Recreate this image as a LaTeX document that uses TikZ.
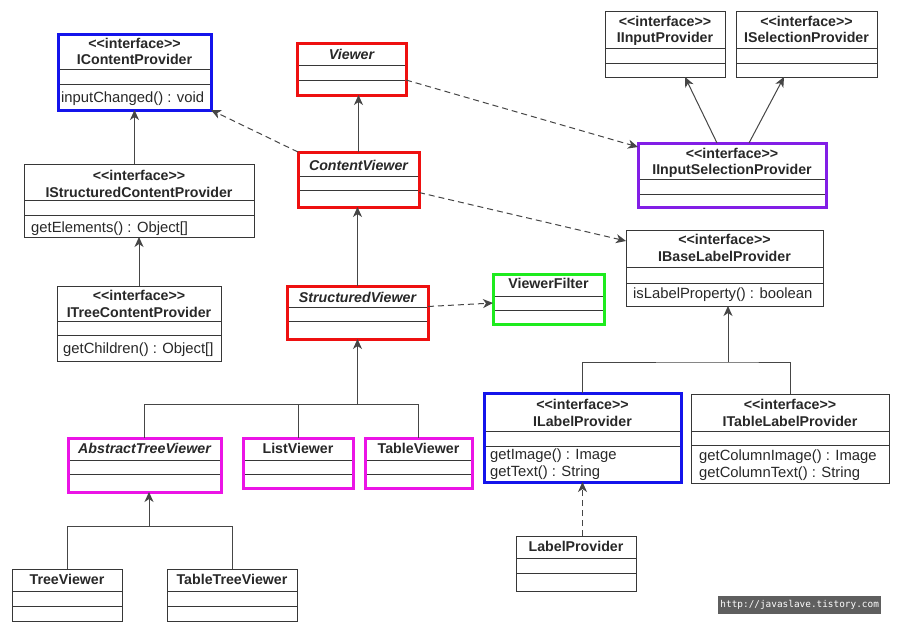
\documentclass[tikz,border=0pt]{standalone}
\usepackage{fontspec}
\setmainfont{Liberation Sans}[Ligatures=TeXOff]
\newfontfamily\wmfont{DejaVu Sans Mono}
\usetikzlibrary{arrows.meta,calc}
\definecolor{redc}{RGB}{238,16,16}
\definecolor{bluec}{RGB}{20,20,235}
\definecolor{purplec}{RGB}{130,30,230}
\definecolor{greenc}{RGB}{30,235,30}
\definecolor{magc}{RGB}{235,20,230}
\definecolor{boxc}{RGB}{55,55,55}
\definecolor{txtc}{RGB}{40,40,40}
\definecolor{linec}{RGB}{70,70,70}
\definecolor{wmc}{RGB}{95,95,95}
\tikzset{
  plainbox/.style={draw=boxc, line width=1pt, inner sep=0pt, outer sep=0pt},
  redbox/.style={plainbox, draw=redc, line width=3pt},
  bluebox/.style={plainbox, draw=bluec, line width=3pt},
  purplebox/.style={plainbox, draw=purplec, line width=3pt},
  greenbox/.style={plainbox, draw=greenc, line width=3pt},
  magbox/.style={plainbox, draw=magc, line width=3pt},
  divider/.style={draw=boxc, line width=0.9pt},
  hdr/.style={font=\fontsize{14.2}{16}\selectfont\bfseries, text=txtc, anchor=base, inner sep=0pt},
  ihdr/.style={hdr, font=\fontsize{14.2}{16}\selectfont\bfseries\itshape},
  meth/.style={font=\fontsize{14.8}{17}\selectfont, text=txtc, anchor=base west, inner sep=0pt},
  inh/.style={draw=linec, line width=1pt, -{Stealth[length=10pt,width=9pt,inset=3pt]}},
  conn/.style={draw=linec, line width=1pt},
  dep/.style={inh, dash pattern=on 6pt off 4pt},
}
\newcommand\umlcls[8]{%
  \draw[divider] (#3,#7) -- (#5,#7) (#3,#8) -- (#5,#8);
  \pgfmathsetlengthmacro\umlw{#5-#3}%
  \pgfmathsetlengthmacro\umlh{#6-#4}%
  \node[#2, minimum width=\umlw, minimum height=\umlh, anchor=north west] (#1) at (#3,#4) {};
}
\begin{document}
\begin{tikzpicture}[x=1pt,y=-1pt]
\path[use as bounding box, fill=white] (0,0) rectangle (900,629);

% classes
\umlcls{cp}{bluebox}{58}{34}{211}{110}{69}{84}
\umlcls{scp}{plainbox}{24}{164}{254}{237}{200}{215}
\umlcls{tcp}{plainbox}{57}{286}{221}{361}{321}{335}
\umlcls{vw}{redbox}{297}{43}{406}{95}{65}{80}
\umlcls{cv}{redbox}{298}{152}{419}{207}{176}{190}
\umlcls{sv}{redbox}{287}{286}{428}{339}{307}{321}
\umlcls{vf}{greenbox}{493}{274}{604}{324}{296}{310}
\umlcls{ip}{plainbox}{605}{11}{725}{77}{48}{63}
\umlcls{sp}{plainbox}{736}{11}{877}{77}{48}{63}
\umlcls{isel}{purplebox}{638}{143}{826}{207}{179}{194}
\umlcls{ibl}{plainbox}{626}{230}{823}{306}{267}{283}
\umlcls{ilp}{bluebox}{484}{393}{681}{482}{431}{446}
\umlcls{itlp}{plainbox}{691}{394}{889}{483}{431}{445}
\umlcls{lp}{plainbox}{516}{536}{636}{591}{558}{573}
\umlcls{atv}{magbox}{68}{438}{221}{492}{460}{474}
\umlcls{lv}{magbox}{243}{438}{353}{488}{460}{474}
\umlcls{tv}{magbox}{365}{438}{472}{488}{460}{474}
\umlcls{trv}{plainbox}{12}{569}{122}{621}{591}{606}
\umlcls{ttv}{plainbox}{167}{569}{297}{621}{591}{606}

% texts
\node[hdr] (cp-s) at (134.5,48) {<<interface>>};
\node[hdr] (cp-n) at (134.5,64) {IContentProvider};
\node[meth] (cp-m) at (61,102) {inputChanged() : void};

\node[hdr] (scp-s) at (139,180) {<<interface>>};
\node[hdr] (scp-n) at (139,197) {IStructuredContentProvider};
\node[meth] (scp-m) at (31,232) {getElements() : Object[]};

\node[hdr] (tcp-s) at (139,300) {<<interface>>};
\node[hdr] (tcp-n) at (139,317) {ITreeContentProvider};
\node[meth] (tcp-m) at (63,353) {getChildren() : Object[]};

\node[ihdr] (vw-n) at (351.5,59) {Viewer};
\node[ihdr] (cv-n) at (358.5,170) {ContentViewer};
\node[ihdr] (sv-n) at (357.5,302) {StructuredViewer};
\node[hdr] (vf-n) at (548.5,288) {ViewerFilter};

\node[hdr] (ip-s) at (665,27) {<<interface>>};
\node[hdr] (ip-n) at (665,42) {IInputProvider};
\node[hdr] (sp-s) at (806.5,27) {<<interface>>};
\node[hdr] (sp-n) at (806.5,42) {ISelectionProvider};

\node[hdr] (isel-s) at (732,158) {<<interface>>};
\node[hdr] (isel-n) at (732,174) {IInputSelectionProvider};

\node[hdr] (ibl-s) at (724.5,244) {<<interface>>};
\node[hdr] (ibl-n) at (724.5,261) {IBaseLabelProvider};
\node[meth] (ibl-m) at (633,298) {isLabelProperty() : boolean};

\node[hdr] (ilp-s) at (582.5,409) {<<interface>>};
\node[hdr] (ilp-n) at (582.5,426) {ILabelProvider};
\node[meth] (ilp-m1) at (490,459) {getImage() : Image};
\node[meth] (ilp-m2) at (490,476) {getText() : String};

\node[hdr] (itlp-s) at (790,409) {<<interface>>};
\node[hdr] (itlp-n) at (790,426) {ITableLabelProvider};
\node[meth] (itlp-m1) at (699,460) {getColumnImage() : Image};
\node[meth] (itlp-m2) at (699,477) {getColumnText() : String};

\node[hdr] (lp-n) at (576,551) {LabelProvider};
\node[ihdr] (atv-n) at (144.5,453) {AbstractTreeViewer};
\node[hdr] (lv-n) at (298,453) {ListViewer};
\node[hdr] (tv-n) at (418.5,453) {TableViewer};
\node[hdr] (trv-n) at (67,584) {TreeViewer};
\node[hdr] (ttv-n) at (232,584) {TableTreeViewer};

% connectors
\draw[inh] (scp.north -| cp.south) -- (cp.south);
\draw[inh] (tcp.north) -- (scp.south);
\draw[inh] (cv.north) -- (cv.north |- vw.south);
\draw[inh] (sv.north) -- (sv.north |- cv.south);
\draw[dep] ([yshift=6pt]sv.east) -- ([yshift=-4pt]vf.west);
\draw[dep] ([yshift=-11pt]vw.east) -- ([yshift=-4pt]isel.north west);
\draw[dep] ([yshift=-13pt]cv.east) -- ([yshift=-11pt]ibl.north west);
\draw[dep] (cv.north west) -- (cp.south east);
\draw[inh] ([xshift=-15pt]isel.north) -- ([xshift=20pt]ip.south);
\draw[inh] ([xshift=17pt]isel.north) -- ([xshift=-22.5pt]sp.south);
\draw[dep] (lp.north -| ilp.south) -- (ilp.south);

\coordinate (j1) at (728,362);
\draw[conn] (ilp.north) |- (j1) -| (itlp.north);
\draw[inh] (j1) -- (j1 |- ibl.south);

\coordinate (j2) at (357.5,404);
\draw[conn] (atv.north) |- (tv.north |- j2) -- (tv.north);
\draw[conn] (lv.north) -- (lv.north |- j2);
\draw[inh] (j2) -- (sv.south);

\coordinate (j3) at (149,526);
\draw[conn] (trv.north) |- (ttv.north |- j3) -- (ttv.north);
\draw[inh] (j3) -- (j3 |- atv.south);

% watermark
\node[fill=wmc, text=white, font=\wmfont\fontsize{9.4}{10}\selectfont, minimum width=163pt, minimum height=18pt, inner sep=0pt, anchor=north west] (wm) at (718,596) {http://javaslave.tistory.com};
\end{tikzpicture}
\end{document}
